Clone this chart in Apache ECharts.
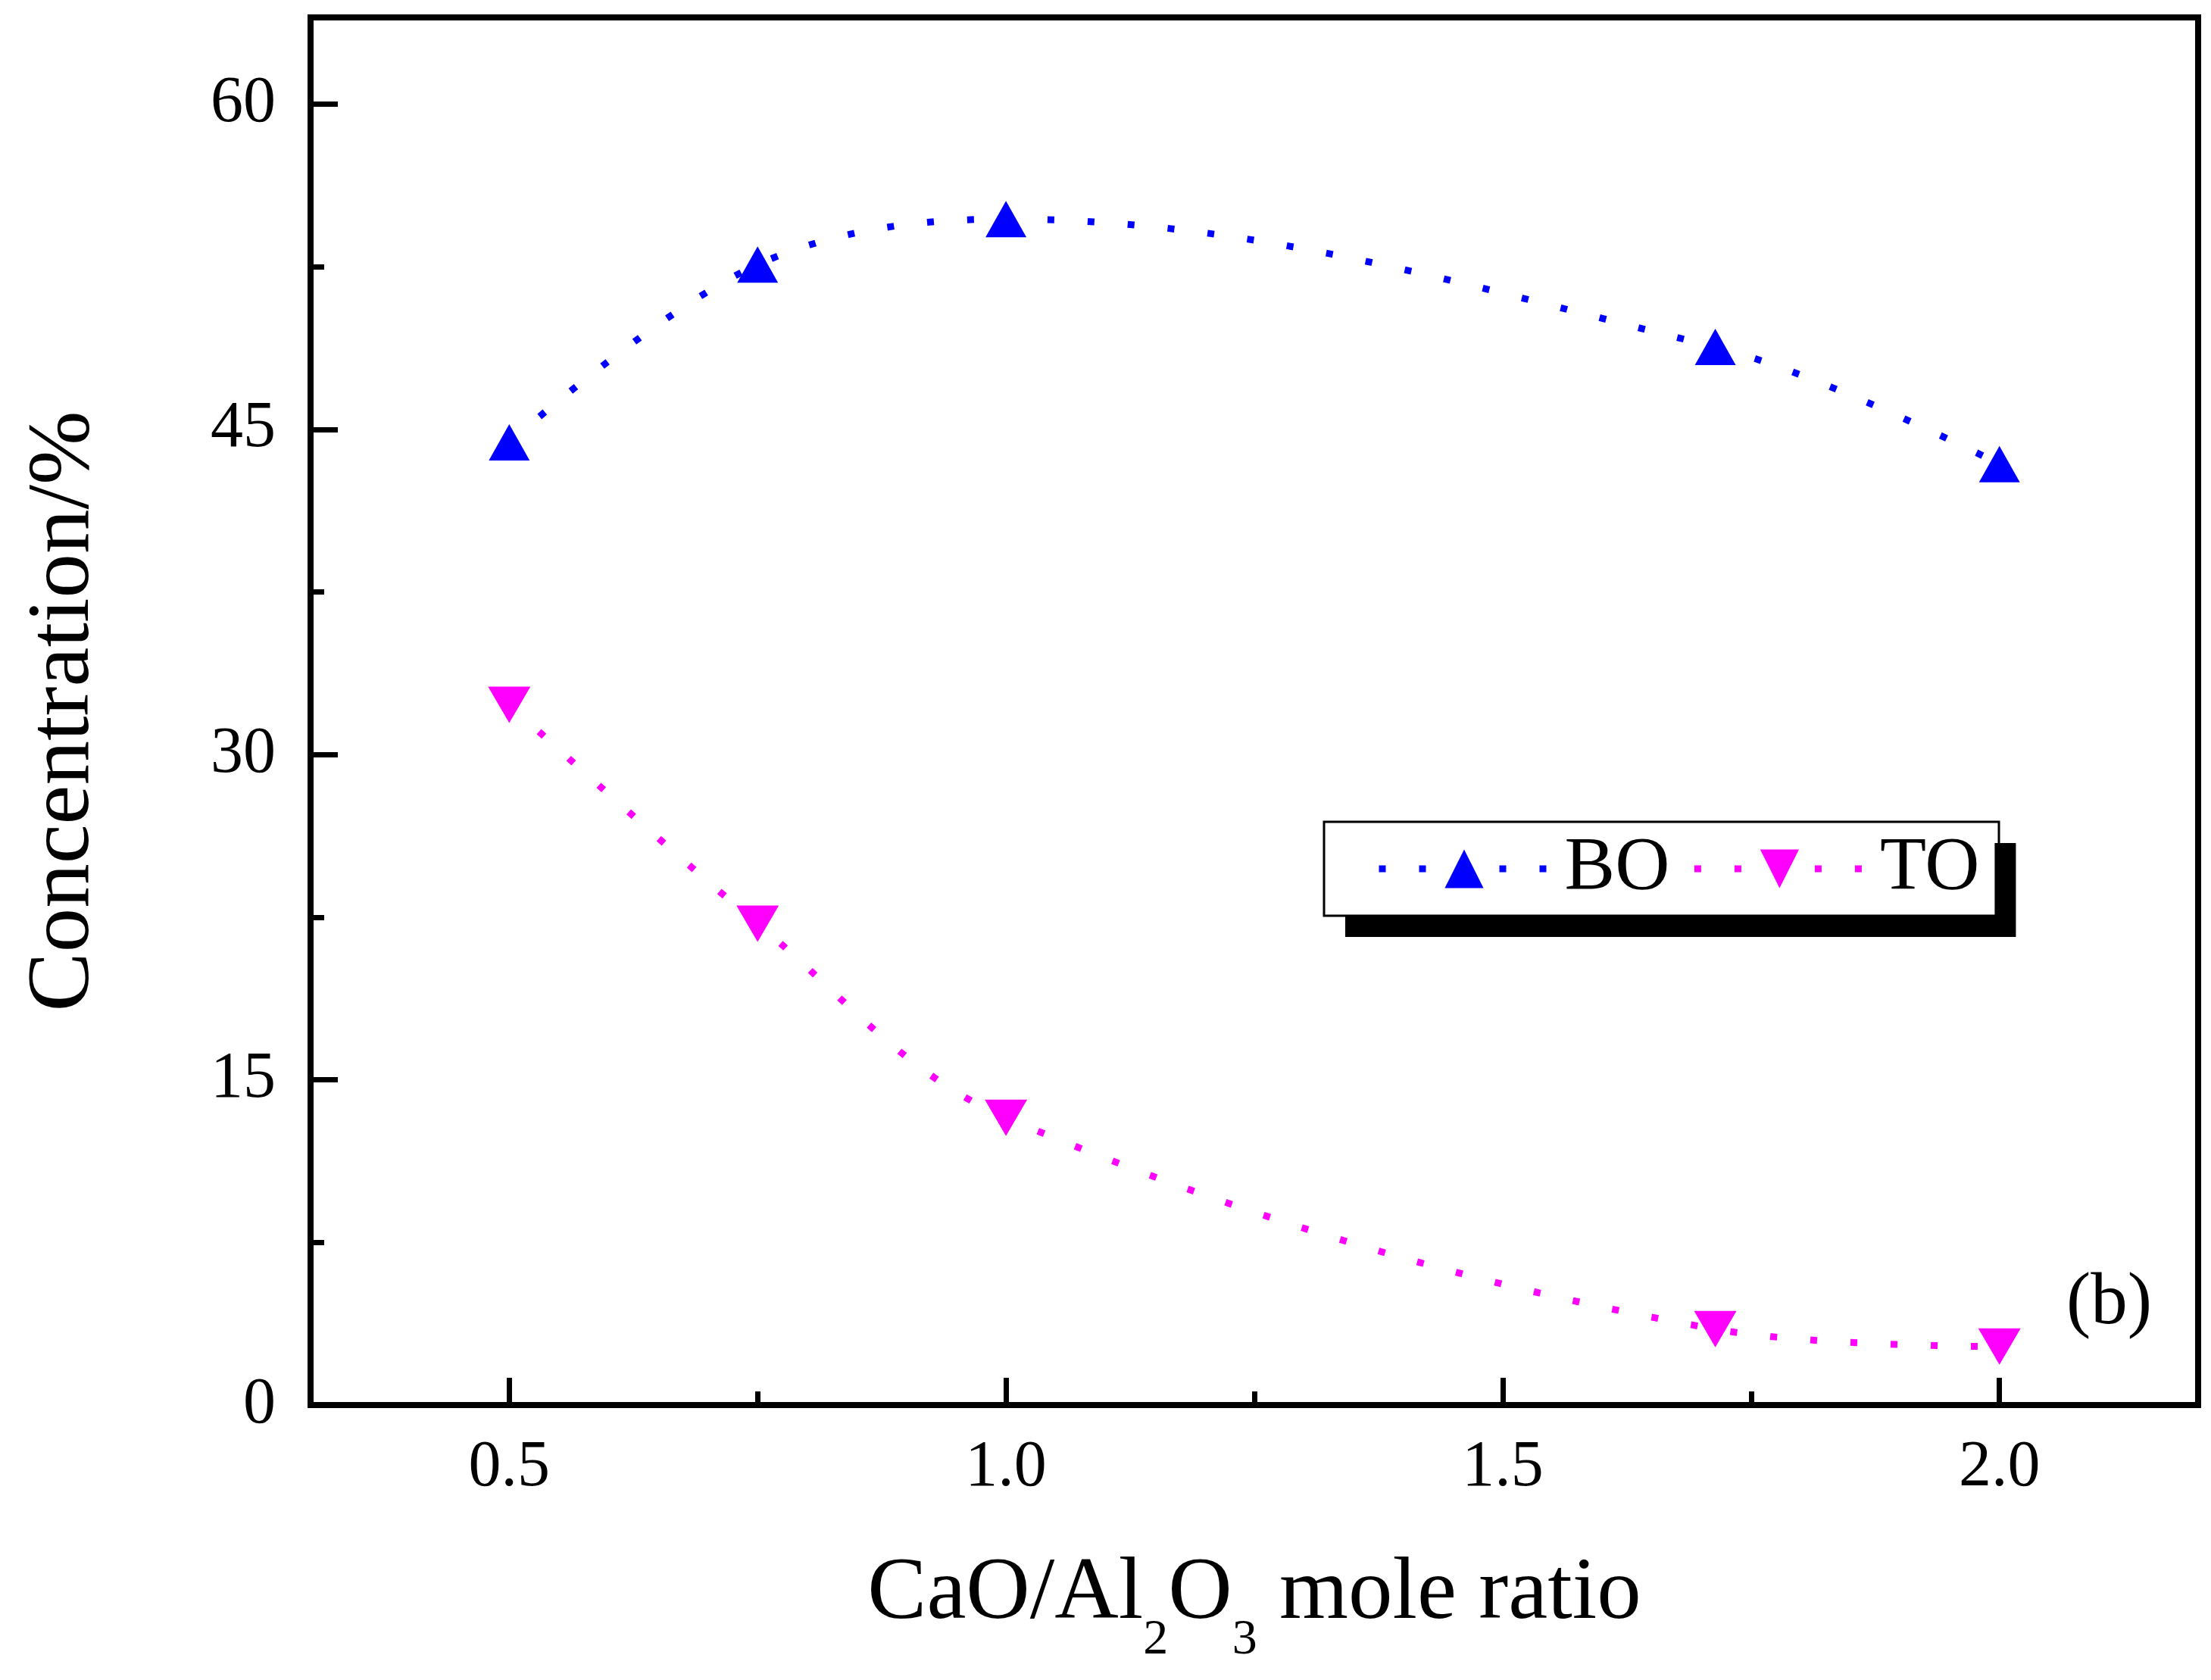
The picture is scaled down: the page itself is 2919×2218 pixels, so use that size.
<!DOCTYPE html>
<html>
<head>
<meta charset="utf-8">
<script src="https://cdn.jsdelivr.net/npm/echarts@6.0.0/dist/echarts.min.js"></script>
<style>
  html, body { margin: 0; padding: 0; background: #fff; }
  #chart { width: 2919px; height: 2218px; }
</style>
</head>
<body>
<div id="chart"></div>
<script>
// CaO/Al2O3 ratio vs BO / TO concentration
const ratios = [0.5, 0.75, 1.0, 1.714, 2.0];
const boValues = [44.4, 52.6, 54.7, 48.8, 43.4];
const toValues = [32.3, 22.2, 13.25, 3.5, 2.7];

const xMajor = [0.5, 1.0, 1.5, 2.0];
const xMinor = [0.75, 1.25, 1.75];
const yMajor = [0, 15, 30, 45, 60];
const yMinor = [7.5, 22.5, 37.5, 52.5];

const FONT = "'Liberation Serif', 'Times New Roman', serif";
const dots = [9, 44];

function pairs(xs, ys) {
  return xs.map((x, i) => [x, ys[i]]);
}

const chart = echarts.init(document.getElementById("chart"));

chart.setOption({
  animation: false,
  backgroundColor: "#fff",
  grid: {
    left: 410, right: 17, top: 23, bottom: 363,
    show: true, borderColor: "#000", borderWidth: 8, backgroundColor: "transparent"
  },
  xAxis: [
    {
      type: "value", min: 0.3, max: 2.2,
      splitLine: { show: false },
      axisLine: { show: true, onZero: false, lineStyle: { color: "#000", width: 8 } },
      axisTick: { inside: true, length: 36, lineStyle: { color: "#000", width: 7 }, customValues: xMajor },
      axisLabel: {
        customValues: xMajor, margin: 40, color: "#000", fontFamily: FONT, fontSize: 86,
        formatter: (v) => v.toFixed(1)
      },
      name: "{a|CaO/Al}{s|2}{a|O}{s|3}{a| mole ratio}",
      nameLocation: "middle", nameGap: 192,
      nameTextStyle: {
        rich: {
          a: { fontFamily: FONT, fontSize: 117, lineHeight: 117, color: "#000", verticalAlign: "top" },
          s: { fontFamily: FONT, fontSize: 66, lineHeight: 66, color: "#000", verticalAlign: "top", padding: [86, 0, 0, 0] }
        }
      }
    },
    {
      type: "value", min: 0.3, max: 2.2, position: "bottom",
      splitLine: { show: false },
      axisLine: { show: false },
      axisLabel: { show: false },
      axisTick: { inside: true, length: 18, lineStyle: { color: "#000", width: 7 }, customValues: xMinor }
    }
  ],
  yAxis: [
    {
      type: "value", min: 0, max: 64,
      splitLine: { show: false },
      axisLine: { show: true, lineStyle: { color: "#000", width: 8 } },
      axisTick: { inside: true, length: 36, lineStyle: { color: "#000", width: 7 }, customValues: yMajor },
      axisLabel: { customValues: yMajor, margin: 46, color: "#000", fontFamily: FONT, fontSize: 86 },
      name: "Concentration/%",
      nameLocation: "middle", nameGap: 266,
      nameTextStyle: { fontFamily: FONT, fontSize: 117, color: "#000" }
    },
    {
      type: "value", min: 0, max: 64, position: "left",
      splitLine: { show: false },
      axisLine: { show: false },
      axisLabel: { show: false },
      axisTick: { inside: true, length: 18, lineStyle: { color: "#000", width: 7 }, customValues: yMinor }
    }
  ],
  legend: {
    left: 1748, top: 1085,
    orient: "horizontal",
    itemWidth: 225, itemHeight: 64, itemGap: 28,
    padding: [12, 20, 12, 68],
    backgroundColor: "#fff",
    borderWidth: 0,
    shadowColor: "#000", shadowBlur: 0, shadowOffsetX: 28, shadowOffsetY: 28,
    textStyle: { fontFamily: FONT, fontSize: 100, color: "#000", padding: [4, 0, 0, 15] },
    lineStyle: { width: 9 },
    data: ["BO", "TO"]
  },
  graphic: [
    {
      // thin outline round the legend box
      type: "rect", z: 100, silent: true,
      shape: { x: 1748, y: 1085, width: 891, height: 124 },
      style: { fill: "none", stroke: "#000", lineWidth: 3 }
    },
    {
      type: "text", left: 2728, top: 1673,
      style: { text: "(b)", fontFamily: FONT, fontSize: 97, fill: "#000" }
    }
  ],
  series: [
    {
      name: "BO", type: "line", xAxisIndex: 0, yAxisIndex: 0,
      data: pairs(ratios, boValues),
      smooth: 0.35,
      symbol: "triangle", symbolSize: [54, 48],
      itemStyle: { color: "#0000ff" },
      lineStyle: { color: "#0000ff", width: 9, type: dots }
    },
    {
      name: "TO", type: "line", xAxisIndex: 0, yAxisIndex: 0,
      data: pairs(ratios, toValues),
      smooth: 0.35,
      symbol: "triangle", symbolRotate: 180, symbolSize: [56, 48],
      itemStyle: { color: "#ff00ff" },
      lineStyle: { color: "#ff00ff", width: 9, type: dots }
    }
  ]
});

window.addEventListener("resize", () => chart.resize());
</script>
</body>
</html>
